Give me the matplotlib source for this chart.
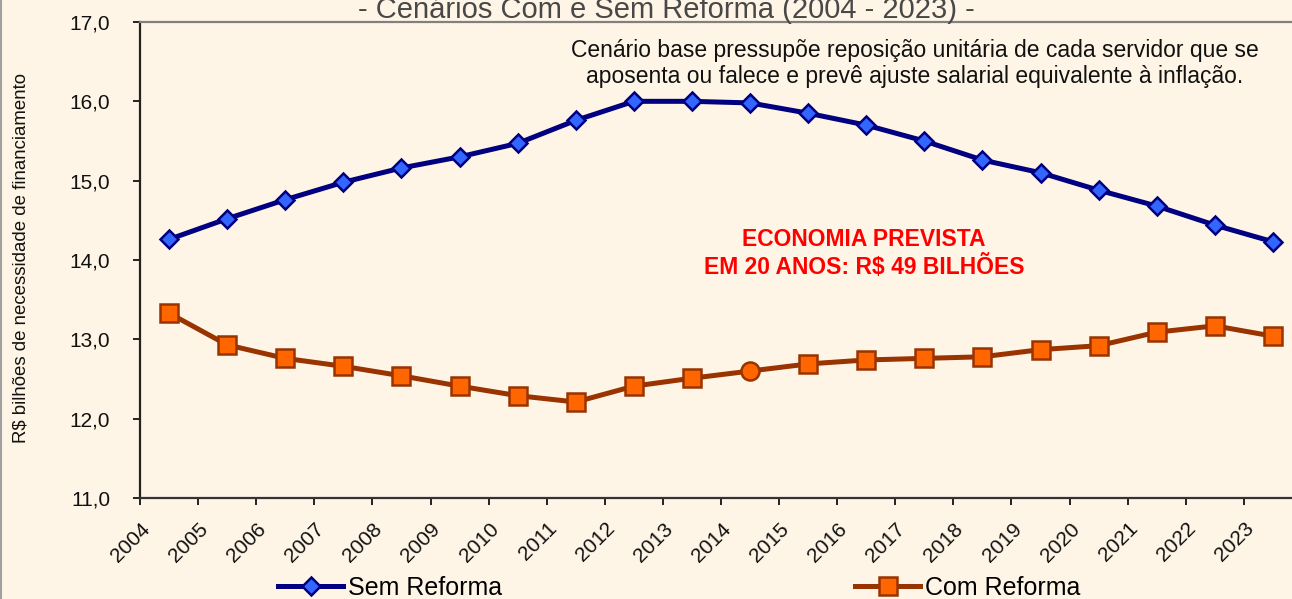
import numpy as np
import matplotlib
matplotlib.use('Agg')
import matplotlib.pyplot as plt
from matplotlib.lines import Line2D
from matplotlib.transforms import ScaledTranslation

# anos e series (R$ bilhoes)
anos = ['2004', '2005', '2006', '2007', '2008', '2009', '2010', '2011', '2012', '2013',
        '2014', '2015', '2016', '2017', '2018', '2019', '2020', '2021', '2022', '2023']
sem_reforma = [14.26, 14.52, 14.76, 14.98, 15.16, 15.30, 15.47, 15.76, 16.00, 16.00,
               15.98, 15.85, 15.70, 15.50, 15.26, 15.10, 14.88, 14.68, 14.44, 14.23]
com_reforma = [13.33, 12.93, 12.76, 12.66, 12.54, 12.41, 12.29, 12.21, 12.41, 12.51,
               12.60, 12.69, 12.74, 12.76, 12.78, 12.87, 12.92, 13.09, 13.17, 13.04]
yticks = [11, 12, 13, 14, 15, 16, 17]

titulo = '- Cenários Com e Sem Reforma (2004 - 2023) -'
nota = ('Cenário base pressupõe reposição unitária de cada servidor que se\n'
        'aposenta ou falece e prevê ajuste salarial equivalente à inflação.')
destaque = 'ECONOMIA PREVISTA\nEM 20 ANOS: R$ 49 BILHÕES'
ylabel = 'R$ bilhões de necessidade de financiamento'

bg = '#FFF5E6'
W, H = 1292, 599
plt.rcParams['font.family'] = ['Liberation Sans', 'DejaVu Sans']

fig = plt.figure(figsize=(W/100, H/100), dpi=100, facecolor=bg)
ax = fig.add_axes([140/W, 101/H, 1162/W, 476/H], facecolor=bg)

x = np.arange(len(anos)) + 0.5

# sem reforma
ax.plot(x, sem_reforma, color='#000080', lw=3.6, marker='D', ms=9.5,
        mfc='#3366FF', mec='#000080', mew=1.8, zorder=3)

# com reforma (2014 aparece com marcador redondo)
idx = [i for i in range(len(anos)) if i != 10]
ax.plot(x, com_reforma, color='#993300', lw=3.6, marker='s', ms=13,
        mfc='#FF6600', mec='#993300', mew=1.8, markevery=idx, zorder=3)
ax.plot(x[10], com_reforma[10], ls='none', marker='o', ms=13,
        mfc='#FF6600', mec='#993300', mew=1.8, zorder=4)

ax.set_xlim(0, 20)
ax.set_ylim(11, 17)
ax.set_yticks(yticks)
ax.set_yticklabels(['%d,0' % v for v in yticks], fontsize=15)
ax.set_xticks(np.arange(len(anos)))
ax.set_xticklabels(anos, fontsize=15, rotation=45, ha='right', va='center',
                   rotation_mode='anchor')
ax.tick_params(axis='y', direction='out', length=5, width=1.3, pad=16.5, colors='#111111')
ax.tick_params(axis='x', direction='out', length=5, width=1.3, pad=15, colors='#111111')
off = ScaledTranslation(0.07, 0, fig.dpi_scale_trans)
for lab in ax.get_xticklabels():
    lab.set_transform(lab.get_transform() + off)

ax.spines['left'].set_color('#222222')
ax.spines['bottom'].set_color('#333333')
ax.spines['top'].set_color('#808080')
ax.spines['right'].set_visible(False)
for s in ['left', 'bottom', 'top']:
    ax.spines[s].set_linewidth(1.6)

ax.text(0.6665, 0.9128, nota, transform=ax.transAxes, ha='center', va='center',
        fontsize=16.5, linespacing=1.2, multialignment='center', color='#111111')
ax.text(0.623, 0.5137, destaque, transform=ax.transAxes, ha='center', va='center',
        fontsize=16.5, fontweight='bold', color='#FF0000', linespacing=1.2,
        multialignment='center')

fig.text(21/W, 1-258/H, ylabel, rotation=90, ha='center', va='center', fontsize=13.4,
         color='#111111')
fig.text(666/W, 1-18/H, titulo, ha='center', va='baseline', fontsize=21, color='#484848')

# legenda
h_sem = Line2D([], [], color='#000080', lw=3.6, marker='D', ms=9.5, mfc='#3366FF',
               mec='#000080', mew=1.8)
h_com = Line2D([], [], color='#993300', lw=3.6, marker='s', ms=13, mfc='#FF6600',
               mec='#993300', mew=1.8)
for h, lab, x0 in [(h_sem, 'Sem Reforma', 278), (h_com, 'Com Reforma', 855)]:
    fig.legend([h], [lab], loc='center left', bbox_to_anchor=(x0/W, 1-588/H),
               frameon=False, borderpad=0, borderaxespad=0, fontsize=18,
               handlelength=2.6, handletextpad=0.2, numpoints=1)

fig.add_artist(Line2D([1/W, 1/W], [0, 1], color='#A0A0A0', lw=1.5))

plt.savefig('out.png', dpi=100, facecolor=bg)
